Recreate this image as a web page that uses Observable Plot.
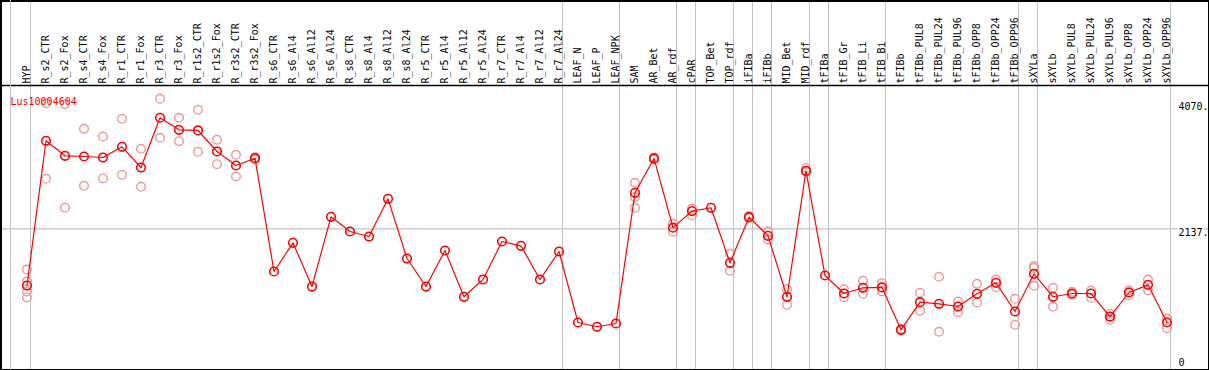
<!DOCTYPE html>
<html><head><meta charset="utf-8">
<script src="https://cdn.jsdelivr.net/npm/d3@7"></script>
<script src="https://cdn.jsdelivr.net/npm/@observablehq/plot@0.6"></script>
<style>body{margin:0;background:#fff} svg{display:block}</style>
</head><body><div id="chart"></div>
<script>
const title = "Lus10004604";
const categories = ["HYP","R_s2_CTR","R_s2_Fox","R_s4_CTR","R_s4_Fox","R_r1_CTR","R_r1_Fox","R_r3_CTR","R_r3_Fox","R_r1s2_CTR","R_r1s2_Fox","R_r3s2_CTR","R_r3s2_Fox","R_s6_CTR","R_s6_Al4","R_s6_Al12","R_s6_Al24","R_s8_CTR","R_s8_Al4","R_s8_Al12","R_s8_Al24","R_r5_CTR","R_r5_Al4","R_r5_Al12","R_r5_Al24","R_r7_CTR","R_r7_Al4","R_r7_Al12","R_r7_Al24","LEAF_N","LEAF_P","LEAF_NPK","SAM","AR_Bet","AR_rdf","cPAR","TOP_Bet","TOP_rdf","iFIBa","iFIBb","MID_Bet","MID_rdf","tFIBa","tFIB_Gr","tFIB_Li","tFIB_Bi","tFIBb","tFIBb_PUL8","tFIBb_PUL24","tFIBb_PUL96","tFIBb_OPP8","tFIBb_OPP24","tFIBb_OPP96","sXYLa","sXYLb","sXYLb_PUL8","sXYLb_PUL24","sXYLb_PUL96","sXYLb_OPP8","sXYLb_OPP24","sXYLb_OPP96"];
const meanValues = [1235,3536,3297,3286,3270,3440,3111,3902,3711,3700,3366,3143,3259,1458,1914,1219,2327,2094,2014,2613,1664,1219,1792,1056,1331,1935,1866,1331,1776,647,579,631,2709,3255,2155,2418,2471,1596,2321,2025,1056,3059,1394,1108,1199,1204,531,970,944,901,1103,1278,822,1421,1056,1108,1108,742,1124,1246,647];
const replicateValues = [
  [1490,1299,1140,1045],[4134,2932],[4118,2471],[3727,2820],[3604,2937],[3885,2995],[3409,2804],[4203,3584],[3902,3530],[4029,3361],[3552,3164],[3313,2968],[3275,3238],
  [],[],[],[],[],[],[],[],[],[],[],[],[],[],[],[],[],[],[],
  [2868,2639,2471],[3270,3240],[2216,2089],[2459,2353],[],[1739,1469],[2340,2305],[2094,1967],[1176,928],[3100,3040],[],[1176,1049],[1310,1103],[1272,1140],
  [545,515],[1119,833],[1373,499],[981,811],[1262,965],[1331,1208],[1024,610],
  [1545,1515,1231],[1199,897],[1135,1085],[1156,1040],[785,690],[1156,1081],[1331,1161],[711,556]
];
const yTicks = [4070, 2137, 0];
const yTickLabels = ["4070.", "2137.", "0"];
const yGrid = [2137];
const separatorsAfter = ["HYP","R_r7_Al24","LEAF_NPK","AR_rdf","cPAR","TOP_rdf","iFIBa","iFIBb","MID_rdf","tFIBa","tFIB_Bi","tFIBb_OPP96","sXYLa","sXYLb_OPP96"];
const separatorsBefore = ["HYP"];

const means = categories.map((c, i) => ({cat: c, value: meanValues[i]}));
const reps = categories.flatMap((c, i) => replicateValues[i].map(v => ({cat: c, value: v})));
const tickData = yTicks.map((v, i) => ({value: v, label: yTickLabels[i]}));

const grid = "#c0c0c0";
const headerLine = (index, scales, values, dims) =>
  d3.create("svg:line").attr("x1", 0).attr("x2", dims.width).attr("y1", 85.5).attr("y2", 85.5)
    .attr("stroke", "black").attr("stroke-width", 1.5).node();
const leadRule = (index, scales, values, dims) => {
  const g = d3.create("svg:g");
  for (const c of separatorsBefore) {
    const x = Math.floor(scales.x(c) - 16) + 0.5;
    g.append("line").attr("x1", x).attr("x2", x).attr("y1", 0).attr("y2", dims.height)
      .attr("stroke", grid).attr("stroke-width", 1);
  }
  return g.node();
};

const chart = Plot.plot({
  width: 1209, height: 370, margin: 0,
  style: {fontFamily: "DejaVu Sans Mono", fontSize: "10px", background: "white", color: "black"},
  x: {type: "point", domain: categories, range: [26.5, 1166.5], padding: 0, round: false, axis: null},
  y: {domain: [0, 4070], range: [362.7, 106.7], axis: null},
  marks: [
    Plot.ruleX(separatorsAfter, {x: d => d, dx: 3.5, stroke: grid, strokeWidth: 1}),
    Plot.ruleY(yGrid, {y: d => d, stroke: grid, strokeWidth: 1.2}),
    Plot.text(tickData.filter(d => yGrid.includes(d.value)), {y: "value", text: "label", frameAnchor: "right", dx: -31, dy: 4, textAnchor: "start", fill: "black", stroke: "white", strokeWidth: 3, fontSize: 10}),
    Plot.text(tickData.filter(d => !yGrid.includes(d.value)), {y: "value", text: "label", frameAnchor: "right", dx: -31, textAnchor: "start", fill: "black", fontSize: 10}),
    Plot.text(categories, {x: d => d, frameAnchor: "top", dy: 83, rotate: -90, textAnchor: "start", lineAnchor: "middle", fill: "black", fontSize: 10}),
    Plot.dot(reps, {x: "cat", y: "value", r: 4.3, stroke: "#e89a9a", strokeWidth: 1.4, fill: "none"}),
    Plot.line(means, {x: "cat", y: "value", stroke: "red", strokeWidth: 1.2}),
    Plot.dot(means, {x: "cat", y: "value", r: 4.3, stroke: "red", strokeWidth: 1.6, fill: "none"}),
    headerLine,
    Plot.frame({stroke: "black", strokeWidth: 2, inset: 0.5}),
    leadRule,
    Plot.text([title], {frameAnchor: "top-left", dx: 10, dy: 97, textAnchor: "start", fill: "red", fontSize: 10})
  ]
});
document.getElementById("chart").append(chart);
</script>
</body></html>
